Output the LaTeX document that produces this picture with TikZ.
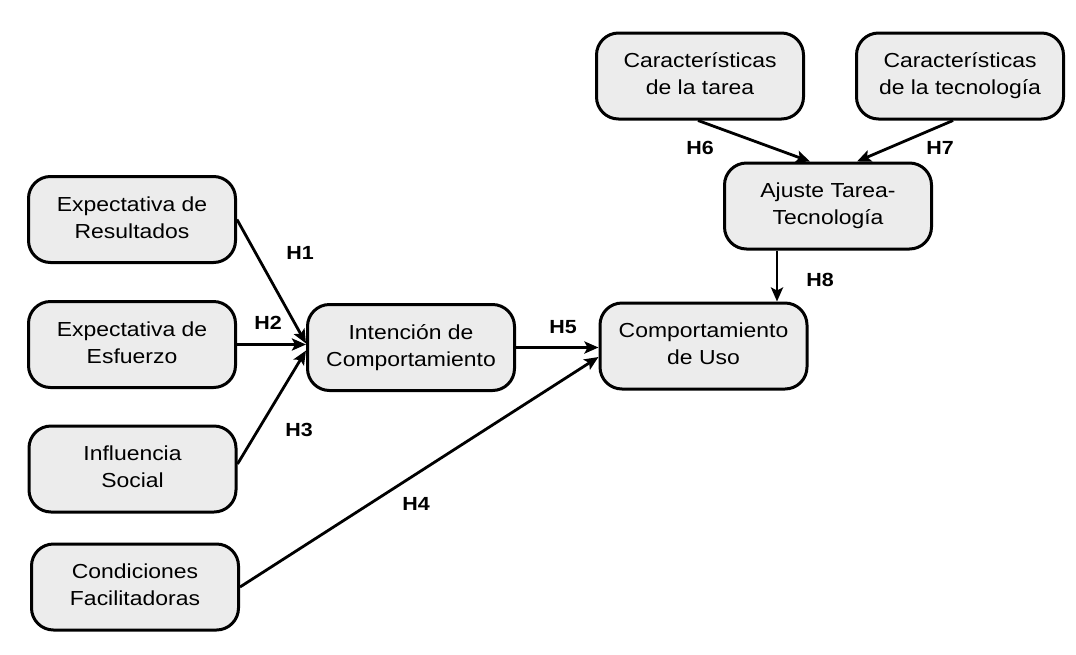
\documentclass[tikz,border=0pt]{standalone}
\usepackage{fontspec}
\setmainfont{Liberation Sans}
\usetikzlibrary{arrows.meta}
\definecolor{boxgray}{RGB}{236,236,236}
\newcommand{\boxtext}[1]{\scalebox{1.13}[1]{\begin{tabular}{@{}c@{}}#1\end{tabular}}}
\newcommand{\hyptext}[1]{\scalebox{1.13}[1]{#1}}
\begin{document}
\begin{tikzpicture}[x=1pt,y=-1pt,
  box/.style={draw=black, line width=3pt, fill=boxgray, rounded corners=22pt,
    minimum width=207pt, minimum height=86pt, inner sep=0pt,
    font=\fontsize{20.3}{27}\selectfont},
  conn/.style={line width=2.8pt, -{Stealth[length=14pt,width=12pt,inset=3pt]}},
  hyp/.style={font=\fontsize{19}{21}\selectfont\bfseries, inner sep=0pt}]
\useasboundingbox (0,0) rectangle (1076,654);
\fill[white] (0,0) rectangle (1076,654);

% boxes
\node[box] (ER)  at (132,219.5) {\boxtext{Expectativa de\\Resultados}};
\node[box] (EE)  at (132,344.5) {\boxtext{Expectativa de\\Esfuerzo}};
\node[box] (IS)  at (132.5,469) {\boxtext{Influencia\\Social}};
\node[box] (CF)  at (135,587)   {\boxtext{Condiciones\\Facilitadoras}};
\node[box] (IC)  at (411,347.5) {\boxtext{Intención de\\Comportamiento}};
\node[box] (CU)  at (703.5,346) {\boxtext{Comportamiento\\de Uso}};
\node[box] (CT)  at (700,76)    {\boxtext{Características\\de la tarea}};
\node[box] (CTe) at (960,76)    {\boxtext{Características\\de la tecnología}};
\node[box] (AT)  at (828,206)   {\boxtext{Ajuste Tarea-\\Tecnología}};

% connectors
\draw[conn] (ER.east) -- ([yshift=4pt]IC.west);
\draw[conn] (EE.east) -- (EE.east -| IC.west);
\draw[conn] ([yshift=5pt]IS.east) -- ([yshift=-3pt]IC.west);
\draw[conn] (CF.east) -- ([yshift=-11pt]CU.west);
\draw[conn] (IC.east) -- (IC.east -| CU.west);
\draw[conn] ([xshift=-2pt]CT.south) -- ([xshift=-18pt]AT.north);
\draw[conn] ([xshift=-7pt]CTe.south) -- ([xshift=29pt]AT.north);
\coordinate (h8s) at ([xshift=-51pt]AT.south);
\draw[conn] (h8s) -- (h8s |- CU.north);

% hypothesis labels
\node[hyp] (H1) at (300,253) {\hyptext{H1}};
\node[hyp] (H2) at (268,323) {\hyptext{H2}};
\node[hyp] (H3) at (299,430) {\hyptext{H3}};
\node[hyp] (H4) at (416,504) {\hyptext{H4}};
\node[hyp] (H5) at (563,327) {\hyptext{H5}};
\node[hyp] (H6) at (700,148) {\hyptext{H6}};
\node[hyp] (H7) at (940,148) {\hyptext{H7}};
\node[hyp] (H8) at (820,280) {\hyptext{H8}};
\end{tikzpicture}
\end{document}
